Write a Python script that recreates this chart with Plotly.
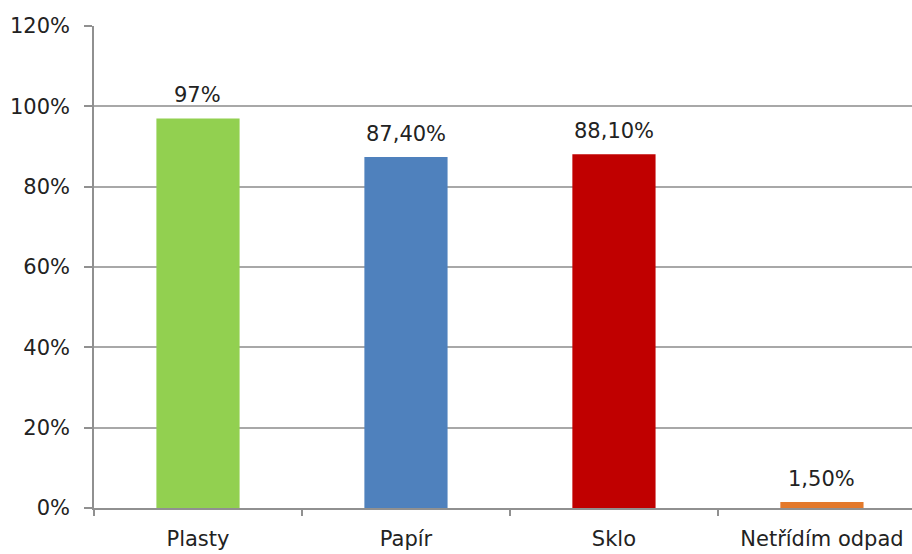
import plotly.graph_objects as go

categories = ["Plasty", "Papír", "Sklo", "Netřídím odpad"]
values = [97, 87.4, 88.1, 1.5]
labels = ["97%", "87,40%", "88,10%", "1,50%"]
colors = ["#92d050", "#4f81bd", "#c00000", "#e3792b"]
y_ticks = [0, 20, 40, 60, 80, 100, 120]
y_ticktext = ["0%", "20%", "40%", "60%", "80%", "100%", "120%"]

font_family = "DejaVu Sans"
fsize = 21

fig = go.Figure()
fig.add_trace(go.Bar(
    x=categories, y=values, marker=dict(color=colors, line=dict(width=0)),
    width=0.4, hoverinfo="skip",
))

for c, v, t in zip(categories, values, labels):
    fig.add_annotation(x=c, y=v, text=t, showarrow=False, yanchor="bottom",
                       yshift=9, font=dict(family=font_family, size=fsize, color="#222"))

fig.update_layout(
    width=912, height=554,
    margin=dict(l=94, r=0, t=26, b=46),
    paper_bgcolor="white", plot_bgcolor="white",
    showlegend=False,
    bargap=0.6,
)
fig.update_xaxes(
    type="category", range=[-0.5, 3.433],
    showline=True, linecolor="#909090", linewidth=1.5,
    ticks="outside", tickson="boundaries", ticklen=6, tickcolor="#909090", tickwidth=1.5,
    showgrid=False, automargin=False,
    tickfont=dict(family=font_family, size=fsize, color="#222"),
    ticklabelstandoff=11,
)
fig.update_yaxes(
    range=[0, 120], tickvals=y_ticks, ticktext=y_ticktext,
    showline=True, linecolor="#909090", linewidth=1.5,
    ticks="outside", ticklen=8, tickcolor="#909090", tickwidth=1.5,
    showgrid=True, gridcolor="#a8a8a8", gridwidth=1.5,
    zeroline=False, automargin=False,
    tickfont=dict(family=font_family, size=fsize, color="#222"),
    ticklabelstandoff=10,
)

fig.write_html("out.html")
